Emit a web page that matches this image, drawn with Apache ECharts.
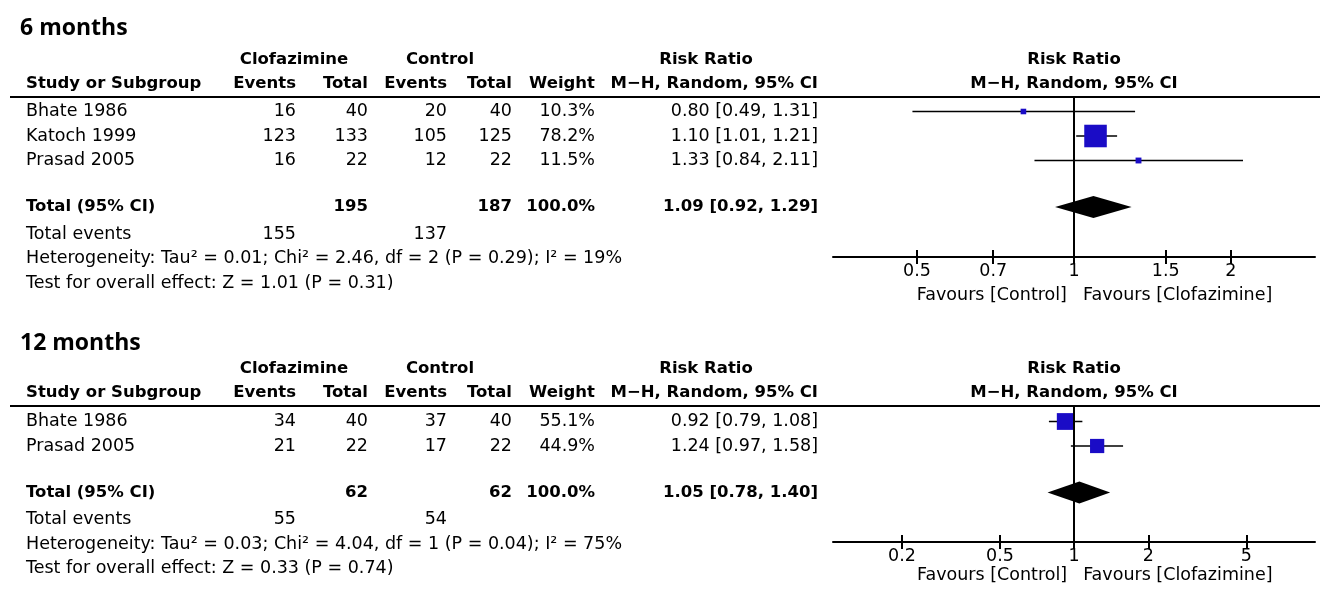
<!DOCTYPE html>
<html>
<head>
<meta charset="utf-8">
<script src="https://cdn.jsdelivr.net/npm/echarts@6/dist/echarts.min.js"></script>
<style>
  html, body { margin: 0; padding: 0; background: #fff; }
  #chart { width: 1325px; height: 599px; }
</style>
</head>
<body>
<div id="chart"></div>
<script>
// ---- 6 months ----
const studies6 = ['Bhate 1986', 'Katoch 1999', 'Prasad 2005'];
const clofEvents6 = [16, 123, 16];
const clofTotal6 = [40, 133, 22];
const ctrlEvents6 = [20, 105, 12];
const ctrlTotal6 = [40, 125, 22];
const weight6 = [10.3, 78.2, 11.5];
const rr6 = [0.80, 1.10, 1.33];
const lower6 = [0.49, 1.01, 0.84];
const upper6 = [1.31, 1.21, 2.11];
const pooled6 = [1.09, 0.92, 1.29];      // estimate, lower, upper
const totals6 = [195, 187];
const totalEvents6 = [155, 137];
const hetero6 = 'Heterogeneity: Tau² = 0.01; Chi² = 2.46, df = 2 (P = 0.29); I² = 19%';
const overall6 = 'Test for overall effect: Z = 1.01 (P = 0.31)';
const ticks6 = [0.5, 0.7, 1, 1.5, 2];

// ---- 12 months ----
const studies12 = ['Bhate 1986', 'Prasad 2005'];
const clofEvents12 = [34, 21];
const clofTotal12 = [40, 22];
const ctrlEvents12 = [37, 17];
const ctrlTotal12 = [40, 22];
const weight12 = [55.1, 44.9];
const rr12 = [0.92, 1.24];
const lower12 = [0.79, 0.97];
const upper12 = [1.08, 1.58];
const pooled12 = [1.05, 0.78, 1.40];
const totals12 = [62, 62];
const totalEvents12 = [55, 54];
const hetero12 = 'Heterogeneity: Tau² = 0.03; Chi² = 4.04, df = 1 (P = 0.04); I² = 75%';
const overall12 = 'Test for overall effect: Z = 0.33 (P = 0.74)';
const ticks12 = [0.2, 0.5, 1, 2, 5];

const panels = [
  { title: '6 months', studies: studies6, ce: clofEvents6, ct: clofTotal6, ke: ctrlEvents6, kt: ctrlTotal6,
    w: weight6, rr: rr6, lo: lower6, hi: upper6, pooled: pooled6, totals: totals6, events: totalEvents6,
    hetero: hetero6, overall: overall6, ticks: ticks6, xmin: 0.345, xmax: 2.9,
    titleY: 28, headerY: 97, axisY: 257, base: 111.5, favY: 295 },
  { title: '12 months', studies: studies12, ce: clofEvents12, ct: clofTotal12, ke: ctrlEvents12, kt: ctrlTotal12,
    w: weight12, rr: rr12, lo: lower12, hi: upper12, pooled: pooled12, totals: totals12, events: totalEvents12,
    hetero: hetero12, overall: overall12, ticks: ticks12, xmin: 0.105, xmax: 9.5,
    titleY: 343, headerY: 406, axisY: 542, base: 421.5, favY: 575 }
];

const ROW_H = 24.5;
const FONT = '"DejaVu Sans", Verdana, sans-serif';
const SIZE = 17.5, BOLD_SIZE = 16.5;
const BLUE = '#1a0cc6';
const COL = { study: 26, ce: 296, ct: 368, ke: 447, kt: 512, w: 595, rr: 818 };

const chart = echarts.init(document.getElementById('chart'));

const grids = [], xAxes = [], yAxes = [], series = [];
panels.forEach(function (p, i) {
  const h = p.axisY - p.headerY;
  grids.push({ left: 833, right: 10, top: p.headerY, height: h });
  const fmt = v => String(Math.round(v * 100) / 100);
  xAxes.push({
    type: 'log', logBase: 10, gridIndex: i, position: 'bottom', min: p.xmin, max: p.xmax,
    axisLine: { onZero: false, lineStyle: { color: '#000', width: 2 } },
    axisTick: { customValues: p.ticks, length: 7, lineStyle: { color: '#000', width: 2 } },
    axisLabel: { customValues: p.ticks, color: '#000', fontSize: SIZE, fontFamily: FONT, margin: 5, formatter: fmt },
    splitLine: { show: false }, minorTick: { show: false }
  });
  // upward half of the crossing ticks
  xAxes.push({
    type: 'log', logBase: 10, gridIndex: i, position: 'top', offset: -h, min: p.xmin, max: p.xmax,
    axisLine: { show: false, onZero: false },
    axisTick: { customValues: p.ticks, length: 7, lineStyle: { color: '#000', width: 2 } },
    axisLabel: { show: false }, splitLine: { show: false }
  });
  yAxes.push({
    type: 'value', gridIndex: i, inverse: true,
    min: (p.headerY - p.base) / ROW_H, max: (p.axisY - p.base) / ROW_H, show: false
  });
  const n = p.studies.length;
  const xi = i * 2;
  series.push({
    type: 'custom', xAxisIndex: xi, yAxisIndex: i, silent: true,
    data: p.studies.map((s, k) => [p.lo[k], p.hi[k], k]),
    encode: { x: [0, 1], y: 2 },
    renderItem: function (params, api) {
      const a = api.coord([api.value(0), api.value(2)]);
      const b = api.coord([api.value(1), api.value(2)]);
      return { type: 'line', shape: { x1: a[0], y1: a[1], x2: b[0], y2: b[1] },
        style: { stroke: '#000', lineWidth: 1.5 } };
    },
    z: 2
  });
  series.push({
    type: 'scatter', xAxisIndex: xi, yAxisIndex: i, silent: true,
    symbol: 'rect',
    data: p.studies.map((s, k) => [p.rr[k], k, p.w[k]]),
    symbolSize: d => 3 + 0.25 * d[2],
    itemStyle: { color: BLUE, opacity: 1 },
    markLine: {
      silent: true, symbol: ['none', 'none'], label: { show: false },
      lineStyle: { color: '#000', width: 2, type: 'solid' },
      data: [{ xAxis: 1 }]
    },
    z: 3
  });
  series.push({
    type: 'custom', xAxisIndex: xi, yAxisIndex: i, silent: true,
    data: [[p.pooled[0], p.pooled[1], p.pooled[2], n + 0.9]],
    encode: { x: [1, 2], y: 3 },
    renderItem: function (params, api) {
      const y = api.value(3);
      const c = api.coord([api.value(0), y]);
      const l = api.coord([api.value(1), y]);
      const r = api.coord([api.value(2), y]);
      return { type: 'polygon',
        shape: { points: [[l[0], c[1]], [c[0], c[1] - 11], [r[0], c[1]], [c[0], c[1] + 11]] },
        style: { fill: '#000' } };
    },
    z: 4
  });
});

chart.setOption({
  animation: false,
  backgroundColor: '#fff',
  grid: grids, xAxis: xAxes, yAxis: yAxes, series: series
});

// table text and headers, placed on the panels' row scale
function txt(x, y, s, align, bold, size, family) {
  return { type: 'text', x: x, y: y, silent: true,
    style: { text: s, fill: '#000', align: align || 'left', verticalAlign: 'middle',
      font: (bold ? 'bold ' : '') + (size || (bold ? BOLD_SIZE : SIZE)) + 'px ' + (family || FONT) } };
}
const f2 = v => v.toFixed(2);
const ci = (e, l, u) => f2(e) + ' [' + f2(l) + ', ' + f2(u) + ']';

const graphics = [];
panels.forEach(function (p, i) {
  const rowY = r => chart.convertToPixel({ yAxisIndex: i }, r);
  const one = chart.convertToPixel({ xAxisIndex: i * 2 }, 1);
  const n = p.studies.length;
  graphics.push(txt(20, p.titleY, p.title, 'left', true, 23, '"Open Sans", sans-serif'));
  const h1 = p.headerY - 37, h2 = p.headerY - 13;
  graphics.push(txt(294, h1, 'Clofazimine', 'center', true));
  graphics.push(txt(440, h1, 'Control', 'center', true));
  graphics.push(txt(706, h1, 'Risk Ratio', 'center', true));
  graphics.push(txt(1074, h1, 'Risk Ratio', 'center', true));
  graphics.push(txt(COL.study, h2, 'Study or Subgroup', 'left', true));
  graphics.push(txt(COL.ce, h2, 'Events', 'right', true));
  graphics.push(txt(COL.ct, h2, 'Total', 'right', true));
  graphics.push(txt(COL.ke, h2, 'Events', 'right', true));
  graphics.push(txt(COL.kt, h2, 'Total', 'right', true));
  graphics.push(txt(COL.w, h2, 'Weight', 'right', true));
  graphics.push(txt(COL.rr, h2, 'M−H, Random, 95% CI', 'right', true));
  graphics.push(txt(1074, h2, 'M−H, Random, 95% CI', 'center', true));
  graphics.push({ type: 'line', silent: true, shape: { x1: 10, y1: p.headerY, x2: 1320, y2: p.headerY },
    style: { stroke: '#000', lineWidth: 2 } });
  p.studies.forEach(function (s, k) {
    const y = rowY(k);
    graphics.push(txt(COL.study, y, s));
    graphics.push(txt(COL.ce, y, String(p.ce[k]), 'right'));
    graphics.push(txt(COL.ct, y, String(p.ct[k]), 'right'));
    graphics.push(txt(COL.ke, y, String(p.ke[k]), 'right'));
    graphics.push(txt(COL.kt, y, String(p.kt[k]), 'right'));
    graphics.push(txt(COL.w, y, p.w[k].toFixed(1) + '%', 'right'));
    graphics.push(txt(COL.rr, y, ci(p.rr[k], p.lo[k], p.hi[k]), 'right'));
  });
  const yt = rowY(n + 0.9);
  graphics.push(txt(COL.study, yt, 'Total (95% CI)', 'left', true));
  graphics.push(txt(COL.ct, yt, String(p.totals[0]), 'right', true));
  graphics.push(txt(COL.kt, yt, String(p.totals[1]), 'right', true));
  graphics.push(txt(COL.w, yt, '100.0%', 'right', true));
  graphics.push(txt(COL.rr, yt, ci(p.pooled[0], p.pooled[1], p.pooled[2]), 'right', true));
  const ye = rowY(n + 2);
  graphics.push(txt(COL.study, ye, 'Total events'));
  graphics.push(txt(COL.ce, ye, String(p.events[0]), 'right'));
  graphics.push(txt(COL.ke, ye, String(p.events[1]), 'right'));
  graphics.push(txt(COL.study, rowY(n + 3), p.hetero));
  graphics.push(txt(COL.study, rowY(n + 4), p.overall));
  graphics.push(txt(one - 7, p.favY, 'Favours [Control]', 'right'));
  graphics.push(txt(one + 9, p.favY, 'Favours [Clofazimine]', 'left'));
});

chart.setOption({ graphic: graphics });
</script>
</body>
</html>
